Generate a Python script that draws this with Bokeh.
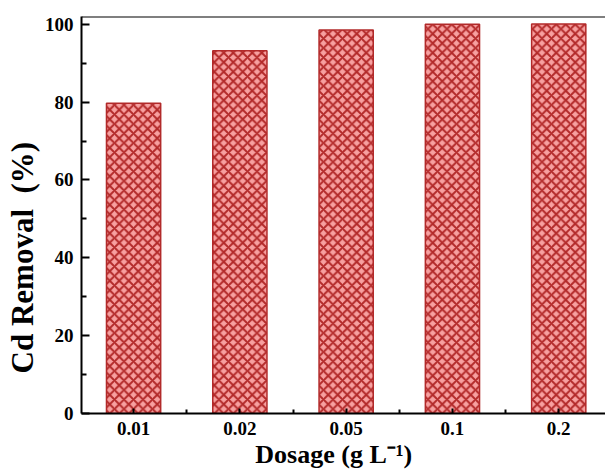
from bokeh.plotting import figure
from bokeh.models import ColumnDataSource, Range1d, FixedTicker, Span
from bokeh.embed import file_html
from bokeh.resources import INLINE

# ---- data ----
dosages = ["0.01", "0.02", "0.05", "0.1", "0.2"]
removal = [79.7, 93.2, 98.5, 100.0, 100.1]
y_ticks = [0, 20, 40, 60, 80, 100]
y_minor = [10, 30, 50, 70, 90]

positions = list(range(len(dosages)))
src = ColumnDataSource(dict(x=positions, top=removal, label=dosages))

FONT = "Liberation Serif"

p = figure(width=605, height=471, output_backend="svg", toolbar_location=None,
           x_range=Range1d(-0.49, 4.44), y_range=Range1d(0, 102),
           min_border_left=81, min_border_right=0, min_border_top=16,
           min_border_bottom=58)
p.outline_line_color = None
p.grid.visible = False
p.background_fill_color = "white"
p.border_fill_color = "white"

p.vbar(x="x", top="top", width=0.51, source=src,
       fill_color="#f7a0a0", line_color="#b22a2a", line_width=1.5,
       hatch_pattern="diagonal_cross", hatch_color="#b32a2a",
       hatch_scale=9.5, hatch_weight=2)

# top frame border
p.add_layout(Span(location=102, dimension="width", line_color="black",
                  line_width=2))

# axes
xa = p.xaxis[0]
xa.ticker = FixedTicker(ticks=positions, minor_ticks=[i + 0.5 for i in positions[:-1]])
xa.major_label_overrides = {i: d for i, d in zip(positions, dosages)}
ya = p.yaxis[0]
ya.ticker = FixedTicker(ticks=y_ticks, minor_ticks=y_minor)

for ax in (xa, ya):
    ax.axis_line_width = 2
    ax.axis_line_color = "black"
    ax.major_tick_line_width = 2
    ax.minor_tick_line_width = 2
    ax.major_tick_out = 0
    ax.minor_tick_out = 0
    ax.major_label_text_font = FONT
    ax.major_label_text_font_style = "bold"
    ax.major_label_text_font_size = "19px"
    ax.major_label_text_color = "black"
    ax.major_label_standoff = 8
    ax.axis_label_text_font = FONT
    ax.axis_label_text_font_style = "bold"
    ax.axis_label_text_color = "black"
    ax.axis_label_standoff = 2
xa.major_tick_in = 5
xa.minor_tick_in = 4
ya.major_tick_in = 8
ya.minor_tick_in = 5

xa.axis_label = "Dosage (g L\u207b\u00b9)" + "\u00a0" * 3
xa.axis_label_text_font_size = "26px"
ya.axis_label = "Cd Removal\u00a0\u00a0(%)" + "\u00a0" * 11
ya.axis_label_text_font_size = "31px"

open("out.html", "w").write(file_html(p, INLINE))
